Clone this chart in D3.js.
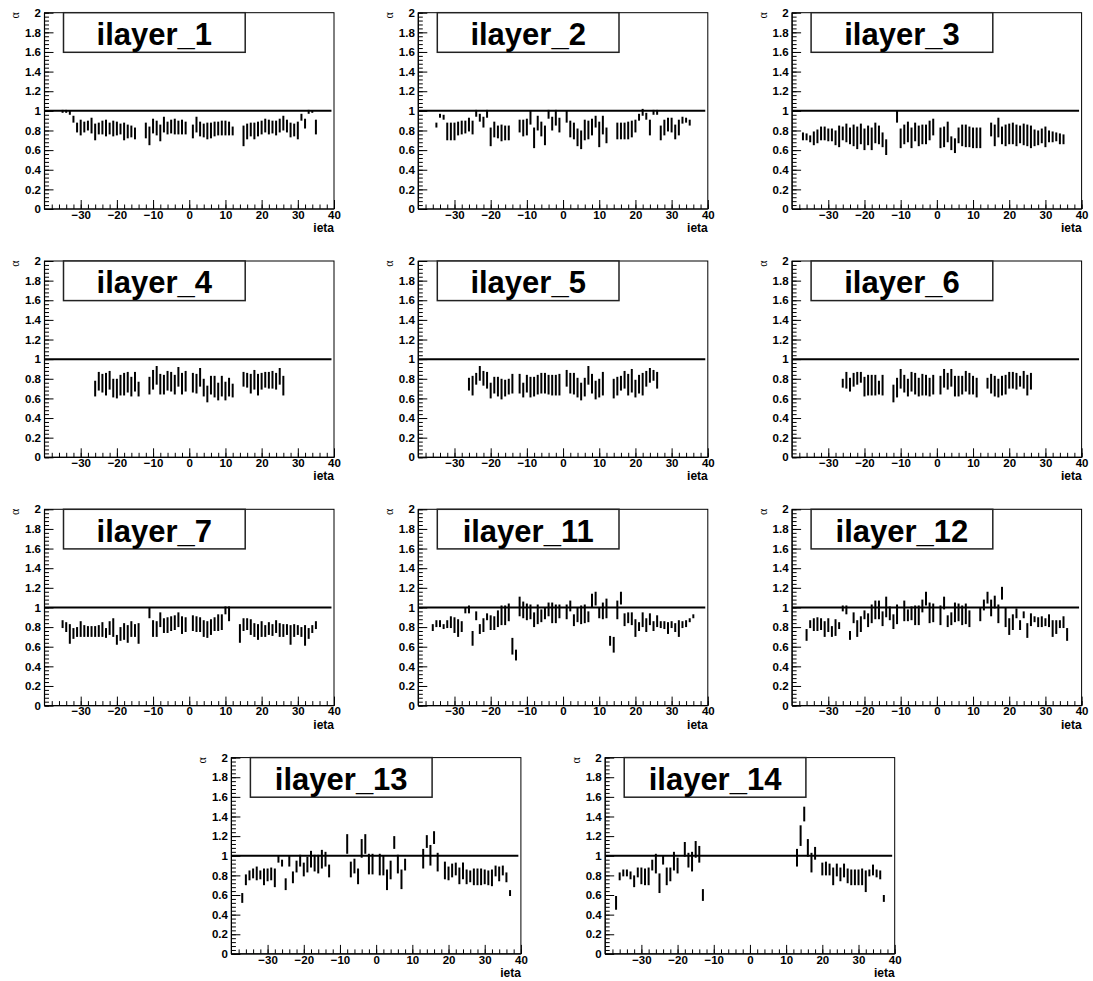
<!DOCTYPE html>
<html><head><meta charset="utf-8">
<script src="https://cdn.jsdelivr.net/npm/d3@7"></script>
<style>body{margin:0;background:#fff}</style>
</head><body><svg id="c" width="1093" height="981"></svg>
<script>
// ---------------- data ----------------
const layerNames = ["ilayer_1","ilayer_2","ilayer_3","ilayer_4","ilayer_5","ilayer_6","ilayer_7","ilayer_11","ilayer_12","ilayer_13","ilayer_14"];
const xTicks = [-30,-20,-10,0,10,20,30,40];
const xTickLabels = ["\u221230","\u221220","\u221210","0","10","20","30","40"];
const yTicks = [0,0.2,0.4,0.6,0.8,1,1.2,1.4,1.6,1.8,2];
const yTickLabels = ["0","0.2","0.4","0.6","0.8","1","1.2","1.4","1.6","1.8","2"];
const xDomain = [-40, 40];
const yDomain = [0, 2];
const refLineY = 1;
const refLineX = [-40, 39.3];
const xTitle = "ieta";
const yTitle = "\u03b1";

const eta_1 = [-35,-34,-33,-32,-31,-30,-29,-28,-27,-26,-25,-24,-23,-22,-21,-20,-19,-18,-17,-16,-15,-12,-11,-10,-9,-8,-7,-6,-5,-4,-3,-2,-1,1,2,3,4,5,6,7,8,9,10,11,12,15,16,17,18,19,20,21,22,23,24,25,26,27,28,29,30,31,32,33,34,35];
const lo_1 = [.98,.98,.96,.88,.78,.75,.78,.80,.77,.70,.76,.76,.74,.76,.74,.75,.76,.70,.72,.73,.71, .72,.65,.77,.75,.69,.78,.76,.77,.76,.76,.76,.76, .72,.78,.74,.73,.71,.72,.74,.75,.75,.75,.75,.75, .64,.71,.74,.71,.74,.76,.78,.76,.77,.75,.78,.80,.78,.73,.74,.71,.90,.82,.97,.98,.76];
const hi_1 = [1.01,1.01,1.0,.95,.88,.91,.89,.90,.93,.87,.88,.90,.91,.88,.90,.89,.87,.88,.86,.85,.83, .88,.84,.92,.90,.86,.94,.89,.91,.92,.90,.91,.89, .86,.94,.89,.87,.88,.88,.89,.89,.90,.90,.89,.84, .85,.87,.88,.88,.89,.90,.92,.91,.90,.90,.92,.95,.91,.88,.87,.89,.97,.92,1.01,1.0,.91];

const eta_2 = [-35,-34,-33,-32,-31,-30,-29,-28,-27,-26,-25,-24,-23,-22,-21,-20,-19,-18,-17,-16,-15,-12,-11,-10,-9,-8,-7,-6,-5,-4,-3,-2,-1,1,2,3,4,5,6,7,8,9,10,11,12,15,16,17,18,19,20,21,22,23,24,25,26,27,28,29,30,31,32,33,34,35];
const lo_2 = [.83,.93,.91,.70,.70,.70,.75,.76,.77,.79,.76,.94,.89,.83,.93,.64,.73,.72,.69,.70,.70, .78,.74,.75,.86,.62,.80,.74,.65,.92,.80,.85,.78, .88,.73,.71,.64,.61,.70,.71,.75,.83,.63,.76,.67, .71,.71,.71,.71,.73,.78,.90,.95,.91,.75,.96,.96,.70,.75,.79,.78,.71,.75,.87,.88,.85];
const hi_2 = [.88,.97,.96,.88,.88,.88,.89,.90,.90,.93,.90,1.01,.97,.94,1.01,.83,.89,.85,.86,.85,.85, .91,.91,.92,1.0,.83,.95,.89,.85,1.01,.94,1.01,.93, 1.0,.90,.88,.82,.80,.91,.90,.92,.95,.89,.95,.83, .88,.88,.88,.89,.90,.91,.97,1.02,.98,.91,1.01,1.01,.85,.91,.93,.93,.86,.91,.94,.93,.91];

const eta_3 = [-37,-36,-35,-34,-33,-32,-31,-30,-29,-28,-27,-26,-25,-24,-23,-22,-21,-20,-19,-18,-17,-16,-15,-14,-11,-10,-9,-8,-7,-6,-5,-4,-3,-2,-1,1,2,3,4,5,6,7,8,9,10,11,12,15,16,17,18,19,20,21,22,23,24,25,26,27,28,29,30,31,32,33,34,35];
const lo_3 = [.70,.70,.68,.65,.67,.70,.70,.69,.69,.65,.63,.70,.68,.66,.64,.61,.66,.60,.65,.60,.67,.66,.63,.55, .88,.62,.66,.68,.62,.69,.64,.66,.66,.70,.75, .62,.63,.68,.60,.57,.67,.64,.63,.63,.62,.62,.62, .74,.64,.73,.66,.64,.66,.66,.64,.67,.65,.64,.62,.64,.65,.67,.63,.68,.68,.69,.66,.66];
const hi_3 = [.78,.77,.75,.79,.81,.84,.84,.82,.82,.80,.85,.84,.87,.83,.86,.84,.87,.82,.85,.83,.88,.85,.78,.71, 1.0,.82,.86,.89,.83,.88,.85,.86,.86,.90,.92, .83,.84,.89,.74,.72,.83,.86,.86,.84,.83,.83,.83, .88,.86,.93,.84,.86,.87,.88,.86,.85,.87,.86,.85,.81,.80,.82,.84,.80,.79,.78,.77,.76];

const eta_4 = [-26,-25,-24,-23,-22,-21,-20,-19,-18,-17,-16,-15,-14,-11,-10,-9,-8,-7,-6,-5,-4,-3,-2,-1,1,2,3,4,5,6,7,8,9,10,11,12,15,16,17,18,19,20,21,22,23,24,25,26];
const lo_4 = [.62,.68,.66,.63,.69,.61,.60,.63,.63,.66,.62,.67,.62, .64,.69,.74,.64,.64,.68,.67,.64,.72,.64,.67, .66,.65,.72,.62,.56,.64,.61,.58,.62,.58,.62,.61, .72,.71,.65,.69,.63,.69,.71,.70,.70,.69,.74,.63];
const hi_4 = [.78,.87,.85,.86,.88,.80,.80,.84,.86,.87,.82,.87,.77, .82,.89,.93,.85,.84,.88,.87,.84,.92,.86,.88, .86,.85,.91,.80,.73,.83,.83,.76,.83,.77,.81,.75, .87,.86,.85,.89,.85,.86,.87,.87,.88,.86,.91,.83];

const eta_5 = [-26,-25,-24,-23,-22,-21,-20,-19,-18,-17,-16,-15,-14,-12,-11,-10,-9,-8,-7,-6,-5,-4,-3,-2,-1,1,2,3,4,5,6,7,8,9,10,11,14,15,16,17,18,19,20,21,22,23,24,25,26];
const lo_5 = [.68,.63,.74,.78,.73,.70,.60,.65,.62,.59,.62,.64,.65, .65,.61,.66,.61,.62,.64,.65,.65,.64,.63,.63,.63, .72,.65,.64,.61,.58,.62,.74,.65,.59,.61,.63, .60,.63,.68,.70,.63,.66,.61,.65,.63,.72,.76,.78,.70];
const hi_5 = [.81,.83,.86,.93,.88,.87,.76,.82,.82,.80,.79,.80,.85, .85,.76,.84,.82,.82,.84,.86,.86,.84,.84,.84,.85, .89,.86,.86,.81,.76,.81,.93,.85,.78,.80,.87, .80,.82,.83,.88,.85,.90,.79,.84,.86,.88,.91,.89,.87];

const eta_6 = [-26,-25,-24,-23,-22,-21,-20,-19,-18,-17,-16,-15,-12,-11,-10,-9,-8,-7,-6,-5,-4,-3,-2,-1,1,2,3,4,5,6,7,8,9,10,11,14,15,16,17,18,19,20,21,22,23,24,25,26];
const lo_6 = [.71,.70,.67,.72,.74,.76,.62,.63,.63,.63,.64,.63, .56,.61,.70,.66,.62,.67,.64,.62,.63,.63,.62,.64, .64,.71,.69,.72,.62,.62,.64,.67,.64,.64,.61, .70,.65,.62,.61,.63,.64,.70,.70,.69,.72,.70,.63,.69];
const hi_6 = [.80,.87,.81,.86,.87,.87,.82,.84,.84,.84,.78,.84, .74,.81,.90,.84,.80,.87,.86,.81,.85,.84,.81,.84, .83,.90,.86,.90,.83,.83,.83,.88,.86,.83,.81, .81,.85,.83,.80,.83,.84,.87,.87,.86,.83,.88,.84,.86];

const eta_7 = [-35,-34,-33,-32,-31,-30,-29,-28,-27,-26,-25,-24,-23,-22,-21,-20,-19,-18,-17,-16,-15,-14,-11,-10,-9,-8,-7,-6,-5,-4,-3,-2,-1,1,2,3,4,5,6,7,8,9,10,11,14,15,16,17,18,19,20,21,22,23,24,25,26,27,28,29,30,31,32,33,34,35];
const lo_7 = [.79,.75,.63,.68,.70,.70,.70,.70,.70,.70,.70,.70,.69,.72,.70,.62,.66,.67,.64,.70,.70,.63, .89,.70,.70,.80,.74,.74,.76,.77,.80,.73,.75, .76,.75,.75,.70,.69,.72,.76,.76,.77,.93,.86, .64,.76,.77,.72,.70,.67,.70,.70,.72,.71,.74,.70,.70,.72,.62,.70,.72,.70,.61,.68,.74,.78];
const hi_7 = [.87,.85,.83,.79,.80,.86,.82,.81,.81,.81,.82,.85,.79,.86,.89,.72,.80,.84,.82,.86,.83,.84, 1.0,.87,.86,.95,.89,.90,.91,.92,.95,.91,.90, .92,.91,.90,.87,.86,.88,.90,.93,.93,1.01,1.01, .83,.89,.89,.88,.84,.83,.86,.82,.85,.83,.87,.84,.83,.83,.82,.83,.82,.80,.82,.79,.82,.86];

const eta_11 = [-36,-35,-34,-33,-32,-31,-30,-29,-28,-27,-26,-25,-24,-23,-22,-21,-20,-19,-18,-17,-16,-15,-14,-13,-12,-11,-10,-9,-8,-7,-6,-5,-4,-3,-2,-1,1,2,3,4,5,6,7,8,9,10,11,12,13,14,15,16,17,18,19,20,21,22,23,24,25,26,27,28,29,30,31,32,33,34,35,36];
const lo_11 = [.76,.80,.80,.78,.79,.79,.74,.70,.75,.94,.94,.61,.87,.73,.75,.87,.77,.77,.80,.82,.82,.86,.52,.46,.91,.89,.87,.88,.80,.83,.85,.88,.91,.84,.84,.89, .88,.96,.81,.85,.83,.84,.85,1.0,1.02,.89,.88,.89,.61,.54,.88,1.03,.81,.84,.82,.70,.76,.80,.75,.82,.76,.80,.79,.78,.73,.79,.75,.70,.79,.80,.85,.89];
const hi_11 = [.83,.87,.87,.83,.87,.91,.90,.88,.86,1.0,1.02,.76,.96,.83,.89,.94,.92,.91,.97,1.02,1.02,1.04,.69,.57,1.11,1.06,1.04,1.03,.95,1.03,.98,1.0,1.05,1.05,1.03,1.03, 1.03,1.07,.93,1.0,1.02,1.03,.96,1.14,1.16,1.0,1.05,1.09,.71,.70,1.07,1.16,.94,.95,.95,.88,.85,.95,.89,.94,.86,.92,.86,.86,.85,.86,.84,.87,.86,.87,.89,.93];

const eta_12 = [-36,-35,-34,-33,-32,-31,-30,-29,-28,-27,-26,-25,-24,-23,-22,-21,-20,-19,-18,-17,-16,-15,-14,-13,-12,-11,-9,-8,-7,-6,-5,-4,-3,-2,-1,1,2,3,4,5,6,7,8,9,12,13,14,15,16,17,18,19,20,21,22,23,24,25,26,27,28,29,30,31,32,33,34,35,36];
const lo_12 = [.66,.79,.76,.76,.77,.70,.75,.70,.71,.78,.96,.93,.67,.84,.70,.75,.88,.80,.84,.88,.88,.81,.90,.87,.78,.83, .86,.86,.87,.82,.82,.95,1.02,.84,.85, .82,.98,.80,.82,.85,.86,.82,.83,.80, .86,.97,1.04,.91,.99,.84,1.08,.80,.72,.77,.89,.77,.89,.69,.81,.85,.80,.80,.81,.80,.70,.73,.79,.79,.66];
const hi_12 = [.78,.87,.89,.90,.89,.86,.89,.81,.88,.85,1.02,1.02,.76,.95,.87,.91,.97,.94,1.03,1.07,1.07,.96,1.11,1.01,.93,1.03, 1.07,.98,1.01,1.02,1.02,1.08,1.16,1.05,1.04, 1.02,1.11,.92,.95,1.05,1.04,1.02,1.04,.97, 1.0,1.08,1.16,1.08,1.12,1.03,1.21,1.0,.89,.93,.99,.87,.96,.84,.94,.91,.90,.91,.89,.93,.87,.87,.87,.91,.79];

const eta_13 = [-37,-36,-35,-34,-33,-32,-31,-30,-29,-28,-27,-26,-25,-24,-23,-22,-21,-20,-19,-18,-17,-16,-15,-14,-13,-8,-7,-6,-5,-4,-3,-2,-1,1,2,3,4,5,6,7,8,13,14,15,16,17,19,20,21,22,23,24,25,26,27,28,29,30,31,32,33,34,35,36,37];
const lo_13 = [.52,.70,.75,.77,.75,.76,.70,.74,.75,.68,.93,.89,.65,.89,.72,.83,.89,.79,.83,.88,.84,.82,.87,.89,.78, 1.02,.78,.82,.71,.98,1.02,.81,.81, .80,.80,.65,.76,1.07,.82,.66,.85, .87,1.08,.90,1.12,.84, .76,.75,.78,.80,.71,.76,.71,.73,.70,.70,.70,.71,.70,.69,.79,.74,.80,.73,.59];
const hi_13 = [.62,.81,.85,.87,.89,.85,.87,.87,.88,.87,1.0,.96,.77,1.0,.84,.95,1.01,.93,.99,1.05,1.01,1.01,1.06,1.04,.91, 1.22,.94,.97,.87,1.17,1.22,1.02,1.02, 1.02,1.0,.86,.95,1.20,1.01,.86,.97, 1.07,1.21,1.11,1.25,1.03, .94,.89,.92,.93,.88,.93,.86,.85,.87,.87,.87,.86,.85,.86,.90,.89,.90,.83,.65];

const eta_14 = [-37,-36,-35,-34,-33,-32,-31,-30,-29,-28,-27,-26,-25,-24,-23,-22,-21,-20,-18,-17,-16,-15,-14,-13,13,14,15,16,17,18,20,21,22,23,24,25,26,27,28,29,30,31,32,33,34,35,36,37];
const lo_14 = [.45,.75,.79,.79,.76,.68,.78,.71,.70,.70,.85,.82,.62,.91,.70,.74,.85,.82, .99,.88,.84,.98,.93,.54, .89,1.10,1.35,.99,.83,.96, .80,.80,.80,.70,.79,.74,.78,.72,.70,.70,.70,.70,.63,.79,.80,.78,.76,.53];
const hi_14 = [.59,.83,.86,.86,.84,.80,.88,.88,.87,.88,.96,1.02,.82,1.0,.88,.88,1.04,.98, 1.14,1.03,1.04,1.15,1.10,.66, 1.07,1.31,1.50,1.17,1.03,1.09, .93,.94,.92,.88,.92,.88,.92,.87,.86,.86,.86,.87,.85,.86,.91,.86,.85,.60];

const etaArr = [eta_1,eta_2,eta_3,eta_4,eta_5,eta_6,eta_7,eta_11,eta_12,eta_13,eta_14];
const loArr  = [lo_1,lo_2,lo_3,lo_4,lo_5,lo_6,lo_7,lo_11,lo_12,lo_13,lo_14];
const hiArr  = [hi_1,hi_2,hi_3,hi_4,hi_5,hi_6,hi_7,hi_11,hi_12,hi_13,hi_14];

// ---------------- drawing ----------------
const W = 1093, H = 981;
const plotW = 289.5, plotH = 196.3;
const x0 = 44.5, y0 = 12.7, colStep = 373.8, rowStep = 248.3;
const FONT = "'Liberation Sans', Arial, Helvetica, sans-serif";

const svg = d3.select("#c");
svg.append("rect").attr("width", W).attr("height", H).attr("fill", "#fff");

layerNames.forEach((name, i) => {
  const r = Math.floor(i / 3), c = i % 3;
  const left = x0 + c * colStep + (r === 3 ? colStep / 2 : 0);
  const top = y0 + r * rowStep;
  const g = svg.append("g").attr("transform", `translate(${left},${top})`);

  const x = d3.scaleLinear().domain(xDomain).range([0, plotW]);
  const y = d3.scaleLinear().domain(yDomain).range([plotH, 0]);

  // frame
  g.append("rect").attr("x", 0).attr("y", 0).attr("width", plotW).attr("height", plotH)
    .attr("fill", "none").attr("stroke", "#000").attr("stroke-width", 1);

  // minor ticks
  const yMinor = d3.range(0, 2.0001, 0.04);
  const xMinor = d3.range(-38, 40.001, 2);
  g.append("g").call(d3.axisLeft(y).tickValues(yMinor).tickFormat("").tickSizeInner(-4.5).tickSizeOuter(0))
    .call(a => a.select(".domain").remove())
    .selectAll("line").attr("stroke", "#000");
  g.append("g").attr("transform", `translate(0,${plotH})`)
    .call(d3.axisBottom(x).tickValues(xMinor).tickFormat("").tickSizeInner(-4.5).tickSizeOuter(0))
    .call(a => a.select(".domain").remove())
    .selectAll("line").attr("stroke", "#000");

  // major ticks + labels
  const ya = g.append("g").call(d3.axisLeft(y).tickValues(yTicks)
      .tickFormat((d, k) => yTickLabels[k]).tickSizeInner(-9).tickSizeOuter(0).tickPadding(3.5));
  ya.select(".domain").remove();
  ya.selectAll("line").attr("stroke", "#000");
  ya.selectAll("text").attr("fill", "#000").attr("font-family", FONT)
    .attr("font-weight", "bold").attr("font-size", "11.5px");

  const xa = g.append("g").attr("transform", `translate(0,${plotH})`)
    .call(d3.axisBottom(x).tickValues(xTicks)
      .tickFormat((d, k) => xTickLabels[k]).tickSizeInner(-9).tickSizeOuter(0).tickPadding(1.5));
  xa.select(".domain").remove();
  xa.selectAll("line").attr("stroke", "#000");
  xa.selectAll("text").attr("fill", "#000").attr("font-family", FONT)
    .attr("font-weight", "bold").attr("font-size", "11.5px");

  // axis lines
  g.append("line").attr("x1", 0).attr("x2", 0).attr("y1", 0).attr("y2", plotH)
    .attr("stroke", "#000").attr("stroke-width", 1.2);
  g.append("line").attr("x1", 0).attr("x2", plotW).attr("y1", plotH).attr("y2", plotH)
    .attr("stroke", "#000").attr("stroke-width", 1.2);

  // reference line at 1
  g.append("line").attr("x1", x(refLineX[0])).attr("x2", x(refLineX[1]))
    .attr("y1", y(refLineY)).attr("y2", y(refLineY))
    .attr("stroke", "#000").attr("stroke-width", 2);

  // error bars
  const eta = etaArr[i], lo = loArr[i], hi = hiArr[i];
  const n = Math.min(eta.length, lo.length, hi.length);
  g.append("g").selectAll("line").data(d3.range(n)).join("line")
    .attr("x1", k => x(eta[k])).attr("x2", k => x(eta[k]))
    .attr("y1", k => y(lo[k])).attr("y2", k => y(hi[k]))
    .attr("stroke", "#000").attr("stroke-width", 2);

  // title box
  const bx = 19, bw = 181.7, bh = 39.6;
  g.append("rect").attr("x", bx).attr("y", 0).attr("width", bw).attr("height", bh)
    .attr("fill", "#fff").attr("stroke", "#222").attr("stroke-width", 1.5);
  g.append("text").attr("x", bx + bw / 2).attr("y", 32.3).attr("text-anchor", "middle")
    .attr("font-family", FONT).attr("font-weight", "bold").attr("font-size", "31px")
    .attr("fill", "#000").text(name);

  // axis titles
  g.append("text").attr("x", plotW).attr("y", plotH + 23).attr("text-anchor", "end")
    .attr("font-family", FONT).attr("font-weight", "bold").attr("font-size", "12px")
    .attr("fill", "#000").text(xTitle);
  g.append("text").attr("transform", `translate(-25.5,-0.5) rotate(-90)`)
    .attr("text-anchor", "end").attr("font-family", "'Liberation Serif', 'DejaVu Serif', serif")
    .attr("font-size", "12px").attr("fill", "#000").text(yTitle);
});
</script>
</body></html>
